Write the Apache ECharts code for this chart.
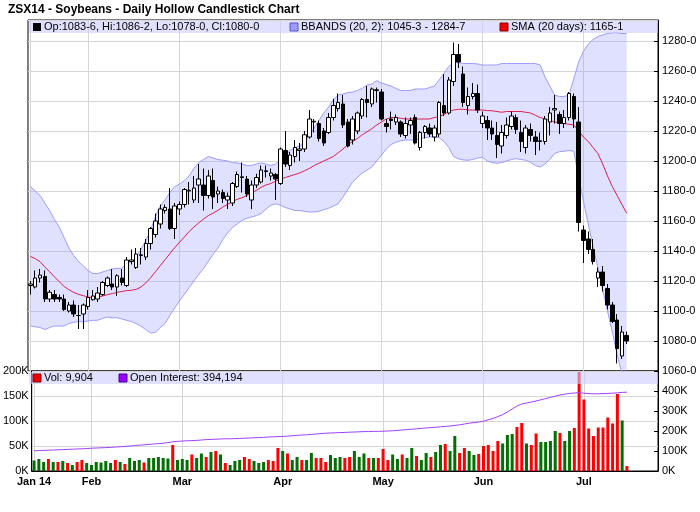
<!DOCTYPE html>
<html><head><meta charset="utf-8">
<script src="https://cdn.jsdelivr.net/npm/echarts@6/dist/echarts.min.js"></script>
<style>html,body{margin:0;padding:0;background:#fff}#c{width:700px;height:512px}</style>
</head><body><div id="c"></div>
<script>
// ---- trading days (categories) ----
const tradingDays = {
  '01': [15,16,17,21,22,23,24,27,28,29,30,31],
  '02': [3,4,5,6,7,10,11,12,13,14,18,19,20,21,24,25,26,27,28],
  '03': [3,4,5,6,7,10,11,12,13,14,17,18,19,20,21,24,25,26,27,28,31],
  '04': [1,2,3,4,7,8,9,10,11,14,15,16,17,21,22,23,24,25,28,29,30],
  '05': [1,2,5,6,7,8,9,12,13,14,15,16,19,20,21,22,23,27,28,29,30],
  '06': [2,3,4,5,6,9,10,11,12,13,16,17,18,19,20,23,24,25,26,27,30],
  '07': [1,2,3,7,8,9,10,11,14,15,16,17,18,21,22,23]
};
const monthNames = {'01':'Jan 14','02':'Feb','03':'Mar','04':'Apr','05':'May','06':'Jun','07':'Jul'};

// ---- price data ----
const opens = [1117,1116,1122,1123,1108,1111,1109,1108,1100,1104,1097,1098,
1103,1107.5,1108,1111,1117,1118,1116,1122,1117,1133,1129,1137,1136,1145,1151,1158,1167,1168,1155,
1168,1171,1180,1174,1184,1184,1177,1187,1178,1179,1174,1172,1183,1189,1188,1174,1184,1186,1193,1190,1191,
1185,1207,1197,1203,1207,1208,1216,1226,1225,1220,1219,1229,1235,1238,1226,1214,1220,1230,1241,1238,1247,
1246,1225,1228,1226,1226,1217,1224,1229,1209,1219,1222,1216,1218,1237,1232,1253,1271,1258,1237,1243,1245,
1225,1227,1222,1217,1210,1217,1223,1229,1219,1209,1221,1216,1213,1213,1226,1234,1231,1225,1229,1243,1226,
1154,1148,1141,1122,1126,1115,1104,1094,1070,1083.75];
const highs = [1120,1127,1128,1127,1114,1114,1111,1111,1106,1107,1104,1105,
1114,1114,1116,1120,1123,1128,1124.5,1128,1136,1141,1142,1142,1148,1156,1165,1171,1171,1182,1172,
1173,1182,1186,1190,1198,1195,1194,1195,1183,1181,1179,1186,1193,1199,1190,1187,1191.5,1197,1197,1195,1192,
1209,1220,1206,1214,1212,1220,1234,1228,1227,1222,1232,1241.5,1245,1244,1228,1230,1233,1242,1250,1249,1249,
1248,1228,1233,1231,1227,1229,1229,1231,1220,1224,1225,1224,1240,1258,1256,1279,1278,1263,1249,1252,1251,
1233,1230,1227,1226,1224,1229,1233,1231,1227,1224,1225,1220,1219,1230,1236,1244,1233,1234,1246,1245,1236,
1157,1153,1148,1129,1130,1118,1106,1098,1090,1086.25];
const lows = [1111,1115,1119,1106,1106,1106,1106,1100,1099,1096,1088,1088,
1101,1107,1106,1110,1116,1114,1110,1117,1116,1131,1128,1131,1134,1141,1149,1155,1165,1154,1148,
1164,1169,1171,1172,1172,1167,1175,1168,1172,1172,1168,1170,1182,1179,1176,1168,1182,1185,1189,1187,1174,
1184,1196,1194,1199,1200,1206,1215,1219,1213,1210,1218,1227,1233,1222,1209,1211,1218,1228,1229,1236,1239,
1227,1219,1221,1224,1216,1215,1218,1211,1207,1215,1216,1213,1216,1230,1231,1250,1262,1236,1231,1241,1232,
1222,1214,1214,1202,1205,1215,1221,1218,1206,1205,1213,1204,1207,1211,1217,1225,1218,1222,1227,1222,1153,
1132,1138,1131,1116,1113,1101,1092,1065,1068,1078];
const closes = [1118,1122,1124,1108,1112.5,1108,1108,1101,1104,1098,1097,1104,
1109,1110,1112,1119,1122,1116,1123.5,1119,1134,1134,1138,1137.5,1145,1155,1160,1168,1169,1155,1170,
1171,1181,1180.5,1182,1188,1177,1190,1176,1180,1175,1176.5,1185,1191,1189.5,1178,1184,1189,1194,1193.5,1192,1188,
1208,1198,1204,1209,1208,1217.5,1228,1226.5,1215,1212,1229,1237,1239,1224,1210,1228,1232,1241,1239,1248,1247.5,
1228,1223,1227,1229,1218,1225,1227,1212,1219,1223,1218,1222,1239,1232,1254,1271,1266,1239,1243,1245,1234,
1230,1222,1218,1211,1219,1224,1230,1221,1213,1222,1217,1213,1213.5,1228,1232,1235,1225,1229,1245,1228,1159,
1147,1141,1133,1126,1117,1104,1093,1075,1086,1080];

// ---- indicators ----
const bbUpper = [1183,1180,1177,1172,1167,1161,1156,1149,1142,1137,1133,1130,
1127,1125,1125,1126,1127,1128,1128.5,1128.5,1131.5,1133,1136,1141,1147,1154,1163,1170,1174,1179,1183,
1184.5,1187,1190,1195,1199,1201,1203,1202,1201,1200.5,1200,1199,1198.7,1198,1197,1197,1198,1198.7,1198,1197,1198,
1200.7,1204,1207,1209,1210,1213,1217,1222,1227,1232,1236,1240.7,1244,1244.7,1245.6,1246,1247,1248.4,1250.7,1251.3,1253.6,
1252,1251,1250,1248.4,1247,1247,1247,1248,1248,1248,1249,1250,1254,1258.4,1263,1265.6,1265.6,1265,1265,1265,1264.7,
1264,1264,1264,1264,1265,1265,1265,1265,1265,1265,1265,1265,1264,1256,1250,1244,1243,1243,1244,1255,1266,
1273,1278,1281,1283,1284,1285,1285.5,1285.5,1285,1284.9];
const bbLower = [1090,1089.5,1089,1087.6,1089,1090,1090,1090,1091.6,1092.4,1093,1092.8,
1093.3,1093.8,1093.8,1095,1096,1095.5,1095.5,1094.7,1093.8,1093,1091.6,1089.8,1087.6,1085.3,1085.8,1089,1091.6,1097,1102,
1106.7,1111,1115.6,1120,1124.4,1128.4,1133,1137.8,1142,1147.6,1152,1155.6,1158,1160.4,1161.8,1162.7,1163.6,1165,1168,1170.5,1171.5,
1170.5,1169,1168,1167,1167,1166.5,1166,1166,1166.5,1167.5,1168.5,1170,1171.5,1176,1181,1186,1189,1192,1194,1196,1200,
1204,1208,1211,1212.5,1213.5,1214,1214,1214,1215,1215.5,1216,1216,1215.5,1213,1209,1203,1201.5,1200.7,1200.5,1201,1202,
1202.5,1200,1199,1198.4,1199,1200,1201,1201.6,1201,1200.5,1199,1197,1196,1198,1201,1205,1206.2,1206.5,1207,1206.5,1189,
1173,1158,1143,1129,1114,1100,1086,1071,1058,1045.4];
const sma20 = [1136.4,1134.9,1132.9,1129.3,1126.2,1122.7,1119.6,1116.4,1114.2,1112.4,1111.1,1110.2,
1109.3,1108.9,1109,1110,1110.9,1111.6,1112.4,1113,1113.6,1113.8,1114.4,1116,1118.7,1122.2,1126.2,1130.2,1134.2,1138.2,1142.2,
1145.8,1149.3,1152.9,1156,1158.7,1161.3,1163.6,1165.3,1167.1,1169.3,1171.1,1172.9,1174.5,1175.5,1177,1178.7,1180.5,1182.5,1184,1185,1186.5,
1188,1189,1190,1191,1192,1193.5,1195,1197,1198.5,1200,1201.5,1203,1205.5,1208,1211,1213,1215,1217.5,1219.5,1221.5,1224,
1226,1228,1229,1229,1228.5,1228,1228,1228,1228,1228,1228,1229,1229.6,1231,1233,1234,1234.5,1234.5,1234,1234,1234,
1234,1233.6,1233.5,1233,1232.5,1233,1233,1233,1233,1232.5,1232,1230.5,1229,1228,1227,1226,1225.5,1225,1224.5,1224,1220,
1216,1213,1209,1205,1198,1190,1183,1177,1171,1165.1];

// ---- volume / open interest (thousands) ----
const volumeK = [21,24,18,24,18,18,20,16,12,18,22,16,
12,18,17,20,16,22,18,14,26,20,22,17,26,26,28,26,25,52,22,
24,22,33,26,35,28,38,40,33,16,12,20,22,28,24,20,16,18,22,20,46,
40,35,22,28,22,22,36,26,26,18,32,26,28,26,28,40,28,35,26,26,26,
44,22,33,24,33,26,46,30,22,36,28,38,52,54,40,70,36,46,40,32,34,
50,52,40,60,55,72,74,88,96,55,52,75,58,58,60,80,76,60,80,86,198,
143,85,70,87,87,107,95,154,101,9.904];
const openInterestK = [101,102,103,104,105,106,107,108,109,110,111,112,
114,115,116,117,118,120,121,123,125,127,129,131,133,135,137,139,142,146,148,
150,151,152,153,155,157,158,159,160,161,161,162,163,164,165,166,167,168,170,171,172,
173,174,176,178,180,181,183,185,187,189,190,191,192,193,194,195,196,197,197,198,198,
199,200,201,203,205,207,209,211,213,215,217,219,221,223,225,228,231,235,239,242,245,
249,256,263,272,282,295,310,325,335,340,345,350,356,362,368,374,380,384,388,390,392,
389,387,386,386,387,388,389,391,393,394.194];

// ---- legend texts ----
const ohlcText = 'Op:1083-6, Hi:1086-2, Lo:1078-0, Cl:1080-0';
const bbText = 'BBANDS (20, 2): 1045-3 - 1284-7';
const smaText = 'SMA (20 days): 1165-1';
const volText = 'Vol: 9,904';
const oiText = 'Open Interest: 394,194';
const titleText = 'ZSX14 - Soybeans - Daily Hollow Candlestick Chart';
const lastPriceLabel = '1080-0';

// ---- build ----
const dates = [];
Object.keys(tradingDays).forEach(m => tradingDays[m].forEach(d => dates.push('2014-' + m + '-' + String(d).padStart(2,'0'))));
const monthStart = new Set();
dates.forEach((d,i) => { if (i === 0 || d.slice(5,7) !== dates[i-1].slice(5,7)) monthStart.add(i); });

const candleData = opens.map((o,i) => [o, closes[i], lows[i], highs[i]]);
const bbWidth = bbUpper.map((u,i) => u - bbLower[i]);
const last = closes.length - 1;

const FONT = 'Liberation Sans, Arial, sans-serif';
const GRID_COLOR = '#d6d6d6';
const RED = '#ff0000', GREEN = '#007000';

const monthSplit = {
  show: true, alignWithLabel: true,
  interval: (i) => monthStart.has(i),
  lineStyle: { color: GRID_COLOR, width: 1 }
};

const chart = echarts.init(document.getElementById('c'), null, { renderer: 'canvas' });
chart.setOption({
  animation: false,
  backgroundColor: '#fff',
  textStyle: { fontFamily: FONT },
  grid: [
    { left: 28, right: 42, top: 20, height: 351, show: true, borderColor: '#000', borderWidth: 1, backgroundColor: 'transparent' },
    { left: 28, right: 42, top: 371, height: 100, show: true, borderColor: '#000', borderWidth: 1, backgroundColor: 'transparent' }
  ],
  xAxis: [
    { type: 'category', gridIndex: 0, data: dates, boundaryGap: true,
      axisLine: { show: false }, axisTick: { show: false }, axisLabel: { show: false },
      splitLine: monthSplit },
    { type: 'category', gridIndex: 1, data: dates, boundaryGap: true,
      axisLine: { show: true, lineStyle: { color: '#000' } }, axisTick: { show: false },
      axisLabel: { show: true, interval: (i) => monthStart.has(i), margin: 5,
        formatter: (v) => monthNames[v.slice(5,7)], fontWeight: 'bold', fontSize: 11, color: '#000', fontFamily: FONT },
      splitLine: monthSplit }
  ],
  yAxis: [
    { type: 'value', gridIndex: 0, position: 'right', min: 1060, max: 1294, interval: 20,
      axisLine: { show: true, lineStyle: { color: '#000' } },
      axisTick: { show: true, inside: true, length: 4, lineStyle: { color: '#000' } },
      axisLabel: { showMaxLabel: false, formatter: (v) => v + '-0', fontSize: 11, color: '#000', margin: 4, fontFamily: FONT },
      splitLine: { show: true, lineStyle: { color: GRID_COLOR } } },
    { type: 'value', gridIndex: 1, position: 'left', min: 0, max: 200, interval: 50,
      axisLine: { show: true, lineStyle: { color: '#000' } },
      axisTick: { show: false },
      axisLabel: { formatter: (v) => v + 'K', fontSize: 11, color: '#000', margin: 3, fontFamily: FONT },
      splitLine: { show: true, lineStyle: { color: GRID_COLOR } } },
    { type: 'value', gridIndex: 1, position: 'right', min: 0, max: 500, interval: 100,
      axisLine: { show: true, lineStyle: { color: '#000' } },
      axisTick: { show: true, inside: true, length: 4, lineStyle: { color: '#000' } },
      axisLabel: { showMaxLabel: false, formatter: (v) => v + 'K', fontSize: 11, color: '#000', margin: 4, fontFamily: FONT },
      splitLine: { show: false } }
  ],
  series: [
    { name: 'bbLower', type: 'line', xAxisIndex: 0, yAxisIndex: 0, data: bbLower, stack: 'bb',
      symbol: 'none', lineStyle: { color: '#9c9cff', width: 1 }, z: 1, clip: true },
    { name: 'bbBand', type: 'line', xAxisIndex: 0, yAxisIndex: 0, data: bbWidth, stack: 'bb',
      symbol: 'none', lineStyle: { color: '#9c9cff', width: 1 },
      areaStyle: { color: 'rgba(140,140,255,0.39)', origin: 'auto' }, z: 1, clip: true },
    { name: 'sma', type: 'line', xAxisIndex: 0, yAxisIndex: 0, data: sma20, symbol: 'none',
      lineStyle: { color: '#dc1f4f', width: 1 }, z: 2 },
    { name: 'price', type: 'candlestick', xAxisIndex: 0, yAxisIndex: 0, data: candleData,
      barWidth: 4,
      itemStyle: { color: '#ffffff', color0: '#000000', borderColor: '#000000', borderColor0: '#000000', borderWidth: 1 },
      z: 3,
      markLine: { silent: true, symbol: 'none', animation: false,
        lineStyle: { opacity: 0 },
        data: [{ yAxis: closes[last] }],
        label: { show: true, position: 'end', formatter: lastPriceLabel, color: '#fff', backgroundColor: '#000',
          padding: [1, 2, 0, 2], fontSize: 11, fontFamily: FONT, distance: 3 } } },
    { name: 'volume', type: 'bar', xAxisIndex: 1, yAxisIndex: 1, barWidth: 3,
      data: volumeK.map((v,i) => ({ value: v, itemStyle: { color: (i === 0 || closes[i] >= closes[i-1]) ? GREEN : RED } })),
      z: 2 },
    { name: 'oi', type: 'line', xAxisIndex: 1, yAxisIndex: 2, data: openInterestK, symbol: 'none',
      lineStyle: { color: '#a040ff', width: 1 }, z: 3 }
  ],
  graphic: [
    { type: 'text', left: 8, top: 4, z: 100, style: { text: titleText, font: 'bold 12px ' + FONT, fill: '#000' } },
    { type: 'rect', shape: { x: 29, y: 21, width: 629, height: 12 }, z: 50, style: { fill: 'rgba(205,205,255,0.6)' } },
    { type: 'rect', shape: { x: 33, y: 23, width: 8, height: 8 }, z: 51, style: { fill: '#000' } },
    { type: 'text', x: 44, y: 21, z: 51, style: { text: ohlcText, font: '11px ' + FONT, fill: '#000' } },
    { type: 'rect', shape: { x: 290, y: 23, width: 8, height: 8 }, z: 51, style: { fill: '#9c9cff', stroke: '#5555cc', lineWidth: 1 } },
    { type: 'text', x: 301, y: 21, z: 51, style: { text: bbText, font: '11px ' + FONT, fill: '#000' } },
    { type: 'rect', shape: { x: 500, y: 23, width: 8, height: 8 }, z: 51, style: { fill: '#ee0000', stroke: '#880000', lineWidth: 1 } },
    { type: 'text', x: 511, y: 21, z: 51, style: { text: smaText, font: '11px ' + FONT, fill: '#000' } },
    { type: 'rect', shape: { x: 29, y: 372, width: 629, height: 12 }, z: 50, style: { fill: 'rgba(205,205,255,0.6)' } },
    { type: 'rect', shape: { x: 33, y: 374, width: 8, height: 8 }, z: 51, style: { fill: '#ee0000', stroke: '#880000', lineWidth: 1 } },
    { type: 'text', x: 44, y: 372, z: 51, style: { text: volText, font: '11px ' + FONT, fill: '#000' } },
    { type: 'rect', shape: { x: 119, y: 374, width: 8, height: 8 }, z: 51, style: { fill: '#9900ff', stroke: '#440088', lineWidth: 1 } },
    { type: 'text', x: 130, y: 372, z: 51, style: { text: oiText, font: '11px ' + FONT, fill: '#000' } }
  ]
});
</script>
</body></html>
